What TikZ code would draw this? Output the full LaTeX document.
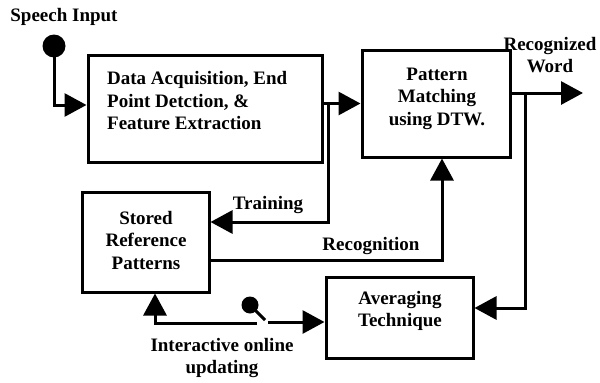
\documentclass[tikz,border=0pt]{standalone}
\usepackage{fontspec}
\setmainfont{Liberation Serif}
\usetikzlibrary{arrows.meta}
\begin{document}
\begin{tikzpicture}[x=1pt,y=-1pt,
  lbl/.style={font=\fontsize{19}{22.5}\selectfont\bfseries, inner sep=0pt, align=center},
  blk/.style={draw, line width=3pt, inner sep=0pt},
  ln/.style={line width=3pt},
  arr/.style={line width=3pt, -{Triangle[length=22pt,width=23pt]}},
  dotc/.style={circle, fill=black, inner sep=0pt}]
\useasboundingbox (0,0) rectangle (600,383);
% blocks
\node[blk, minimum width=234pt, minimum height=107pt] (acq) at (205,108.5) {};
\node[lbl, align=left, anchor=west] (acqt) at (107,101) {Data Acquisition, End\\Point Detction, \&\\Feature Extraction};
\node[blk, minimum width=148pt, minimum height=107pt] (match) at (436,103.5) {};
\node[lbl] (matcht) at (437,98.5) {Pattern\\Matching\\using DTW.};
\node[blk, minimum width=127pt, minimum height=100pt] (stored) at (145.5,242) {};
\node[lbl] (storedt) at (146,240) {Stored\\Reference\\Patterns};
\node[blk, minimum width=147pt, minimum height=81pt] (avg) at (399.5,317.5) {};
\node[lbl] (avgt) at (400,311) {Averaging\\Technique};
% labels
\node[lbl] (speech) at (64,17) {Speech Input};
\node[lbl] (recw) at (550,55) {Recognized\\Word};
\node[lbl] (train) at (268,205) {Training};
\node[lbl] (recog) at (371,246) {Recognition};
\node[lbl] (inter) at (222,358) {Interactive online\\updating};
% dots
\node[dotc, minimum size=23pt] (dot1) at (54,46) {};
\node[dotc, minimum size=17pt] (dot2) at (250,305) {};
\coordinate (tj) at (328,103);
\coordinate (oj) at (525,93);
\coordinate (out) at (583,93);
\coordinate (lev) at (265,320);
\coordinate (swl) at (257,323);
\coordinate (swr) at (268,322);
% connectors
\draw[arr] (dot1.center) |- ([yshift=3.5pt]acq.west);
\draw[arr] (acq.east |- match.west) -- (match.west);
\draw[arr] (tj) |- ([yshift=20pt]stored.east);
\draw[arr] ([yshift=-18pt]stored.east) -| ([xshift=6pt]match.south);
\draw[arr] ([yshift=10.5pt]match.east) -- (out);
\draw[arr] (oj) |- ([yshift=9.5pt]avg.east);
\draw[ln] (dot2.center) -- (lev);
\draw[arr] (swl) -| ([xshift=9.5pt]stored.south);
\draw[arr] (swr) -- (avg.west |- swr);
\end{tikzpicture}
\end{document}
